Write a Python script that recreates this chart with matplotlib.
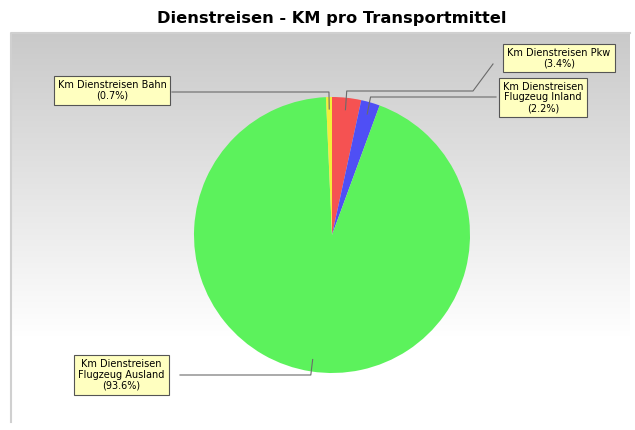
import numpy as np
import matplotlib
matplotlib.use("Agg")
import matplotlib.pyplot as plt

# Daten
labels = ["Km Dienstreisen Pkw", "Km Dienstreisen\nFlugzeug Inland",
          "Km Dienstreisen\nFlugzeug Ausland", "Km Dienstreisen Bahn"]
shares = [3.4, 2.2, 93.6, 0.7]
colors = ["#F55252", "#4F4FF5", "#5CF25C", "#F2EE3A"]

W, H = 635, 430
fig = plt.figure(figsize=(W / 100, H / 100), dpi=100)
fig.patch.set_facecolor("white")

# Achse in Pixelkoordinaten (y von unten)
ax = fig.add_axes([0, 0, 1, 1])

# Hintergrund mit Farbverlauf (oben grau, unten weiss)
t = np.linspace(0, 1, 256)
val = 1 - 0.21 * np.clip((t - 0.22) / 0.78, 0, 1)
grad = np.repeat(val[:, None, None], 3, axis=2)
ax.imshow(grad, extent=[11, 630, 8, 397], origin="lower", aspect="auto", zorder=0)
ax.plot([11, 11, 630], [8, 397, 397], color="#d0d0d0", lw=1.5, zorder=1)

# Torte
cx, cy, r = 332, 195, 138
wedges, _ = ax.pie(shares, colors=colors, startangle=90, counterclock=False,
                   center=(cx, cy), radius=r, frame=True,
                   wedgeprops=dict(linewidth=0, zorder=3))
ax.set_xlim(0, W)
ax.set_ylim(0, H)
ax.set_aspect("auto")
ax.axis("off")

# Beschriftungen mit Führungslinien
boxes = [(559, 372), (543, 332.5), (121.5, 55), (112, 339.5)]
elbow_y = [339, 333, 55, 338]
box_edge = [(473, 'diag'), (496, None), (180, None), (172, None)]
for w, share, lab, (bx, by), ey, (ex, kind) in zip(wedges, shares, labels, boxes, elbow_y, box_edge):
    ang = np.deg2rad((w.theta1 + w.theta2) / 2)
    px0 = cx + (r - 12) * np.cos(ang)
    py0 = cy + (r - 12) * np.sin(ang)
    px = cx + r * np.cos(ang)
    xs = [px0, px, ex]
    ys = [py0, ey, ey]
    if kind == 'diag':
        xs.append(493)
        ys.append(366)
    ax.plot(xs, ys, color="#6a6a6a", lw=0.8, zorder=4)
    ax.text(bx, by, f"{lab}\n({share}%)", ha="center", va="center",
            fontsize=7, family="DejaVu Sans", linespacing=1.1, zorder=5,
            bbox=dict(boxstyle="square,pad=0.4", fc="#FFFFC0", ec="#555555", lw=0.8))

fig.text(332 / W, 1 - 18 / H, "Dienstreisen - KM pro Transportmittel",
         ha="center", va="center", fontsize=11.7, fontweight="bold")

fig.savefig("out.png", dpi=100)
